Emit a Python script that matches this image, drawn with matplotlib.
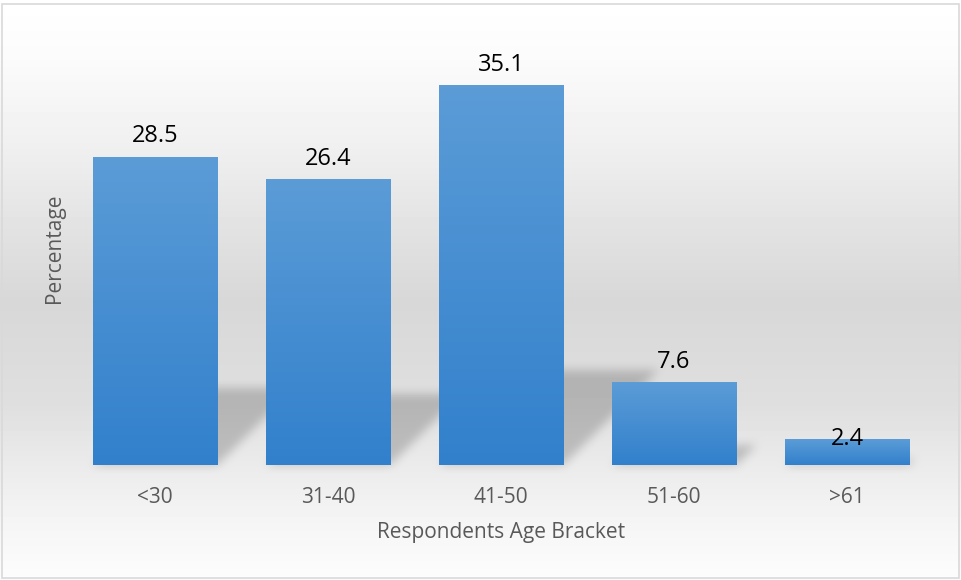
import numpy as np
import matplotlib.pyplot as plt
from matplotlib.patches import Rectangle

plt.rcParams['font.family'] = ['Open Sans', 'DejaVu Sans']

brackets = ["<30", "31-40", "41-50", "51-60", ">61"]
percent = [28.5, 26.4, 35.1, 7.6, 2.4]

W, H, DPI = 961, 580, 100
fig = plt.figure(figsize=(W / DPI, H / DPI), dpi=DPI)

# backdrop axes (gradient + bar shadows) sits behind the chart
bg = fig.add_axes([0, 0, 1, 1], zorder=0)
bg.set_axis_off()

ax = fig.add_axes([68.5 / W, 115.3 / H, 865 / W, 432 / H], zorder=1)
ax.patch.set_alpha(0)

x = np.arange(len(brackets))
bars = ax.bar(x, percent, width=0.717, color='none', zorder=2)

# vertical blue gradient inside every bar
top_c = np.array([0x5B, 0x9C, 0xD7]) / 255
bot_c = np.array([0x32, 0x80, 0xCC]) / 255
t = np.linspace(0, 1, 64)[:, None]
grad = (top_c * (1 - t) + bot_c * t)[:, None, :]
for b in bars:
    ax.imshow(grad, extent=(b.get_x(), b.get_x() + b.get_width(), 0, b.get_height()),
              aspect='auto', zorder=2, interpolation='bilinear')

ax.set_xlim(-0.5, len(brackets) - 0.5)
ax.set_ylim(0, 40)

for xi, v in zip(x, percent):
    off = 0 if v < 5 else 15
    ax.annotate(f"{v}", (xi, v), xytext=(0, off), textcoords='offset points',
                ha='center', va='center', fontsize=17, color='black', zorder=3)

ax.set_xticks(x)
ax.set_xticklabels(brackets, fontsize=15, color='#595959')
ax.tick_params(axis='x', length=0, pad=16)
ax.set_yticks([])
for s in ax.spines.values():
    s.set_visible(False)
ax.set_xlabel("Respondents Age Bracket", fontsize=15, color='#595959', labelpad=10)
ax.set_ylabel("Percentage", fontsize=15, color='#595959')
ax.yaxis.set_label_coords(-0.004, 0.5)

# background: white at top, grey band through the middle, white again at bottom
stops = [0, 0.1, 0.25, 0.4, 0.52, 0.7, 0.8, 0.9, 1.0]
shade = [1.0, 0.985, 0.94, 0.885, 0.845, 0.875, 0.92, 0.96, 0.99]
rows = np.interp(np.linspace(0, 1, H), stops, shade)
img = np.repeat(rows[:, None], W, axis=1)

# perspective shadows cast up and to the right of each bar
mask = np.zeros((H, W))
yy = np.arange(H)[:, None]
xx = np.arange(W)[None, :]
for b in bars:
    (x0, y0), (x1, y1) = ax.transData.transform([(b.get_x(), 0),
                                                 (b.get_x() + b.get_width(), b.get_height())])
    base = H - y0
    sh = 0.25 * (y1 - y0)
    up = base - yy
    skew = 1.0 * up
    inside = (up >= 0) & (up <= sh) & (xx >= x0 + skew) & (xx <= x1 + skew)
    mask[inside] = 1.0


def box_blur(a, r):
    k = np.ones(2 * r + 1) / (2 * r + 1)
    a = np.apply_along_axis(lambda m: np.convolve(m, k, mode='same'), 0, a)
    return np.apply_along_axis(lambda m: np.convolve(m, k, mode='same'), 1, a)


for _ in range(2):
    mask = box_blur(mask, 5)
img = img * (1 - 0.19 * mask)

bg.imshow(np.clip(img, 0, 1), cmap='gray', vmin=0, vmax=1, extent=(0, 1, 0, 1),
          aspect='auto', interpolation='bilinear')
bg.set_xlim(0, 1)
bg.set_ylim(0, 1)

fig.add_artist(Rectangle((2 / W, 2 / H), 957 / W, 574 / H, transform=fig.transFigure,
                         fill=False, edgecolor='#d9d9d9', linewidth=1.2, zorder=5))

fig.savefig("out.png", dpi=DPI)
